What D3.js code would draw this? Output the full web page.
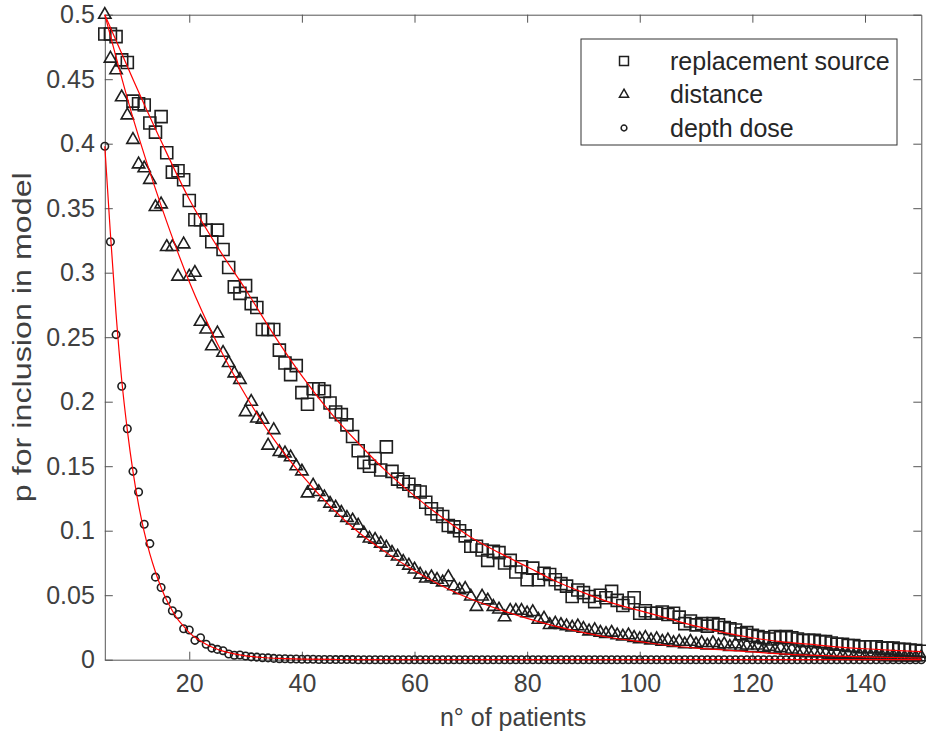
<!DOCTYPE html>
<html>
<head>
<meta charset="utf-8">
<script src="https://cdn.jsdelivr.net/npm/d3@7"></script>
<style>
  body { margin: 0; background: #fff; }
  text { font-family: "Liberation Sans", Arial, sans-serif; }
</style>
</head>
<body>
<div id="chart-area"></div>
<script>
const chartSize = { width: 926, height: 746 };
const margin = { left: 104.8, right: 4.7, top: 14.7, bottom: 86.3 };
const width = chartSize.width - (margin.left + margin.right);
const height = chartSize.height - (margin.top + margin.bottom);

// x = number of patients, 5..150
const patients = d3.range(5, 151);

const replacementSource = [
  .485, .485, .483, .465, .463, .433, .431, .430, .416, .409,
  .421, .393, .378, .379, .372, .356, .341, .341, .333, .324,
  .333, .318, .304, .289, .284, .290, .276, .273, .256, .256,
  .256, .240, .230, .221, .228, .207, .198, .210, .210, .208,
  .199, .192, .190, .182, .173, .162, .153, .150, .156, .147,
  .165, .146, .140, .138, .136, .131, .130, .122, .117, .113,
  .111, .104, .103, .100, .096, .088, .088, .085, .077, .084,
  .083, .075, .077, .068, .072, .062, .071, .062, .067, .066,
  .062, .059, .057, .049, .054, .052, .049, .045, .050, .048,
  .053, .046, .042, .044, .048, .036, .038, .036, .036, .037,
  .035, .036, .033, .028, .030, .027, .028, .026, .028, .027,
  .025, .024, .023, .020, .021, .019, .018, .017, .016, .018,
  .017, .018, .017, .016, .015, .015, .015, .014, .014, .013,
  .012, .012, .011, .011, .010, .010, .010, .010, .009, .009,
  .009, .008, .008, .0075, .007, .0065
];

const distance = [
  .500, .466, .457, .436, .422, .403, .384, .381, .372, .351,
  .353, .320, .320, .297, .322, .297, .300, .262, .256, .243,
  .253, .238, .230, .222, .217, .192, .200, .187, .186, .166,
  .178, .161, .160, .157, .150, .146, .129, .135, .130, .126,
  .121, .118, .114, .110, .108, .104, .098, .094, .093, .090,
  .087, .083, .080, .076, .073, .070, .066, .063, .064, .062,
  .060, .064, .057, .054, .055, .049, .041, .049, .046, .041,
  .039, .033, .038, .038, .038, .036, .037, .031, .032, .027,
  .028, .027, .026, .025, .026, .024, .022, .023, .021, .020,
  .021, .019, .018, .019, .017, .016, .017, .015, .016, .014,
  .015, .013, .014, .012, .014, .012, .013, .011, .013, .011,
  .012, .010, .012, .010, .011, .009, .011, .009, .010, .008,
  .009, .007, .008, .006, .007, .005, .006, .005, .005, .004,
  .005, .004, .004, .003, .004, .003, .003, .003, .003, .002,
  .003, .002, .002, .002, .002, .002
];

const depthDose = [
  .398, .324, .252, .212, .179, .146, .130, .105, .090, .064,
  .056, .046, .038, .035, .024, .023, .015, .017, .012, .009,
  .008, .007, .0044, .0034, .0036, .0029, .0022, .0020, .0015, .0014,
  .0010, .0008, .0007, .0005, .0005, .0004, .0003, .0003, .0002, .0002,
  .0002, .0001, .0001, .0001, .0001, 0, 0, 0, 0, 0,
  0, 0, 0, 0, 0, 0, 0, 0, 0, 0,
  0, 0, 0, 0, 0, 0, 0, 0, 0, 0,
  0, 0, 0, 0, 0, 0, 0, 0, 0, 0,
  0, 0, 0, 0, 0, 0, 0, 0, 0, 0,
  0, 0, 0, 0, 0, 0, 0, 0, 0, 0,
  0, 0, 0, 0, 0, 0, 0, 0, 0, 0,
  0, 0, 0, 0, 0, 0, 0, 0, 0, 0,
  0, 0, 0, 0, 0, 0, 0, 0, 0, 0,
  0, 0, 0, 0, 0, 0, 0, 0, 0, 0,
  0, 0, 0, 0, 0, 0
];

// fitted curves (red)
const fitX = [5, 10, 15, 20, 25, 30, 35, 40, 45, 50, 55, 60, 65, 70, 75, 80,
  85, 90, 95, 100, 105, 110, 115, 120, 125, 130, 135, 140, 145, 150];
const replacementFit = [.500, .450, .402, .357, .320, .287, .252, .220, .192, .168,
  .146, .127, .110, .095, .083, .072, .061, .052, .044, .038,
  .032, .026, .021, .017, .014, .012, .010, .0085, .0073, .0062];
const distanceFit = [.500, .420, .352, .293, .245, .205, .171, .143, .119, .099,
  .083, .069, .057, .047, .039, .032, .026, .021, .017, .014,
  .011, .009, .0075, .006, .0045, .0035, .0028, .0022, .0017, .0013];
const depthFitX = [5, 6, 7, 8, 9, 10, 11, 12, 13, 14, 15, 16, 17, 18, 19, 20,
  22, 24, 26, 28, 30, 33, 36, 40, 45, 50, 60, 80, 100, 150];
const depthDoseFit = [.398, .330, .268, .217, .178, .146, .120, .099, .082, .068,
  .056, .046, .038, .031, .026, .021, .0145, .0098, .0066, .0045,
  .003, .0017, .001, .0005, .0002, .0001, 0, 0, 0, 0];

const xTicks = [20, 40, 60, 80, 100, 120, 140];
const yTicks = [0, 0.05, 0.1, 0.15, 0.2, 0.25, 0.3, 0.35, 0.4, 0.45, 0.5];
const yTickLabels = ['0', '0.05', '0.1', '0.15', '0.2', '0.25', '0.3', '0.35', '0.4', '0.45', '0.5'];
const seriesNames = ['replacement source', 'distance', 'depth dose'];

const axisColor = '#555';
const textColor = '#404040';
const markColor = '#1e1e1e';

const x = d3.scaleLinear().domain([5, 150]).range([0, width]);
const y = d3.scaleLinear().domain([0, 0.5]).range([height, 0]);

const shapes = [
  d3.symbol().type(d3.symbolSquare).size(144),
  d3.symbol().type(d3.symbolTriangle).size(66),
  d3.symbol().type(d3.symbolCircle).size(44)
];
const legendShapes = [
  d3.symbol().type(d3.symbolSquare).size(80),
  d3.symbol().type(d3.symbolTriangle).size(36),
  d3.symbol().type(d3.symbolCircle).size(26)
];

const styleAxis = (g) => {
  g.select('.domain').attr('stroke', axisColor).attr('stroke-width', 1);
  g.selectAll('.tick line').attr('stroke', axisColor).attr('stroke-width', 1);
  g.selectAll('.tick text')
    .attr('fill', textColor)
    .attr('font-size', 25)
    .attr('font-family', '"Liberation Sans", Arial, sans-serif');
};

const drawChart = () => {
  const svg = d3.select('#chart-area').append('svg')
    .attr('width', chartSize.width)
    .attr('height', chartSize.height);

  const plot = svg.append('g')
    .attr('transform', `translate(${margin.left},${margin.top})`);

  // axes (box with inward ticks on all sides)
  plot.append('g')
    .attr('transform', `translate(0,${height})`)
    .call(d3.axisBottom(x).tickValues(xTicks).tickSizeInner(-8).tickSizeOuter(0).tickPadding(15))
    .call(styleAxis);
  plot.append('g')
    .call(d3.axisTop(x).tickValues(xTicks).tickSizeInner(-8).tickSizeOuter(0).tickFormat(''))
    .call(styleAxis);
  plot.append('g')
    .call(d3.axisLeft(y).tickValues(yTicks).tickSizeInner(-8).tickSizeOuter(0).tickPadding(10)
      .tickFormat((d, i) => yTickLabels[i]))
    .call(styleAxis);
  plot.append('g')
    .attr('transform', `translate(${width},0)`)
    .call(d3.axisRight(y).tickValues(yTicks).tickSizeInner(-8).tickSizeOuter(0).tickFormat(''))
    .call(styleAxis);

  // markers
  const allSeries = [replacementSource, distance, depthDose];
  allSeries.forEach((values, k) => {
    plot.append('g')
      .attr('class', 'series')
      .selectAll('path')
      .data(values)
      .join('path')
      .attr('d', shapes[k])
      .attr('transform', (d, i) => `translate(${x(patients[i])},${y(d)})`)
      .attr('fill', 'none')
      .attr('stroke', markColor)
      .attr('stroke-width', 1.6);
  });

  // fitted lines
  const line = d3.line()
    .x(d => x(d[0]))
    .y(d => y(d[1]))
    .curve(d3.curveMonotoneX);
  const fits = [
    d3.zip(fitX, replacementFit),
    d3.zip(fitX, distanceFit),
    d3.zip(depthFitX, depthDoseFit)
  ];
  plot.selectAll('.fit')
    .data(fits)
    .join('path')
    .attr('class', 'fit')
    .attr('d', line)
    .attr('fill', 'none')
    .attr('stroke', '#ff0000')
    .attr('stroke-width', 1.2);

  // axis labels
  svg.append('text')
    .attr('x', margin.left + width / 2)
    .attr('y', 726)
    .attr('text-anchor', 'middle')
    .attr('fill', textColor)
    .attr('font-size', 25)
    .text('n° of patients');
  svg.append('text')
    .attr('transform', `translate(31,${margin.top + height / 2}) rotate(-90)`)
    .attr('text-anchor', 'middle')
    .attr('fill', textColor)
    .attr('font-size', 26)
    .attr('textLength', 330)
    .attr('lengthAdjust', 'spacingAndGlyphs')
    .text('p for inclusion in model');

  // legend
  const legend = svg.append('g').attr('class', 'legend');
  legend.append('rect')
    .attr('x', 581).attr('y', 39)
    .attr('width', 316).attr('height', 106)
    .attr('fill', '#fff')
    .attr('stroke', '#333')
    .attr('stroke-width', 1);
  seriesNames.forEach((name, k) => {
    const cy = 61 + k * 33.5;
    legend.append('path')
      .attr('d', legendShapes[k])
      .attr('transform', `translate(624,${cy})`)
      .attr('fill', 'none')
      .attr('stroke', markColor)
      .attr('stroke-width', 1.5);
    legend.append('text')
      .attr('x', 670)
      .attr('y', cy)
      .attr('dy', '0.35em')
      .attr('fill', '#262626')
      .attr('font-size', 25)
      .text(name);
  });
};

window.onload = drawChart;
</script>
</body>
</html>
